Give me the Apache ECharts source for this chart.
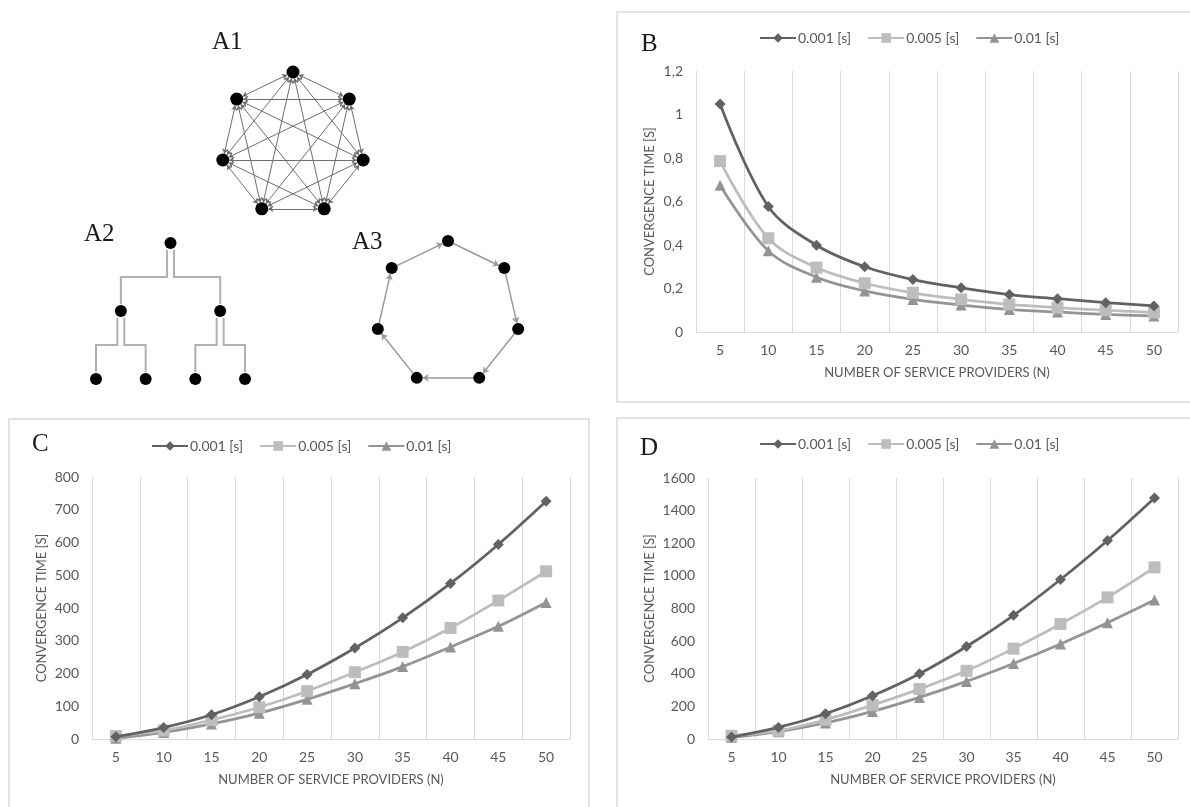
<!DOCTYPE html>
<html>
<head>
<meta charset="utf-8">
<script src="https://cdn.jsdelivr.net/npm/echarts@6/dist/echarts.min.js"></script>
<style>
html,body{margin:0;padding:0;background:#fff;}
#main{width:1190px;height:807px;}
</style>
</head>
<body>
<div id="main"></div>
<script>
// ---------- data ----------
const categories = ['5','10','15','20','25','30','35','40','45','50'];
const seriesNames = ['0.001 [s]','0.005 [s]','0.01 [s]'];

const bData001 = [1.048,0.577,0.399,0.300,0.241,0.203,0.172,0.153,0.135,0.120];
const bData005 = [0.786,0.431,0.296,0.224,0.180,0.150,0.127,0.112,0.100,0.090];
const bData01  = [0.675,0.373,0.252,0.189,0.150,0.124,0.104,0.092,0.081,0.074];

const cData001 = [7,35,74,129,197,278,370,475,594,726];
const cData005 = [9,26,58,97,146,204,266,339,423,512];
const cData01  = [2,20,46,79,121,169,221,281,344,417];

const dData001 = [12,71,155,265,400,567,758,978,1217,1478];
const dData005 = [20,51,118,208,306,418,554,705,868,1052];
const dData01  = [10,45,98,169,255,353,463,583,713,852];

const yAxisB = {min:0, max:1.2, interval:0.2};
const yAxisC = {min:0, max:800, interval:100};
const yAxisD = {min:0, max:1600, interval:200};

const xAxisTitle = 'NUMBER OF SERVICE PROVIDERS (N)';
const yAxisTitle = 'CONVERGENCE TIME [S]';
const panelLabels = ['A1','A2','A3','B','C','D'];

// network topologies
const a1NodeCount = 7;                  // fully connected mesh
const a2Tree = {children:[{children:[{},{}]},{children:[{},{}]}]}; // binary tree
const a3NodeCount = 7;                  // directed ring

// ---------- styling ----------
const colors = ['#626262','#bdbdbd','#949494'];
const symbols = ['diamond','rect','triangle'];
const symbolSizes = [11,12,11];
const textColor = '#595959';
const gridColor = '#d9d9d9';
const FONT = 'Lato';

// ---------- layouts for networks (derived from topology) ----------
function ringLayout(n){
  const pts=[];
  for(let i=0;i<n;i++){const a=-Math.PI/2+i*2*Math.PI/n;pts.push([Math.cos(a),Math.sin(a)]);}
  return pts;
}
const a1Pos = ringLayout(a1NodeCount);
const a1Links=[];
for(let i=0;i<a1NodeCount;i++)for(let j=i+1;j<a1NodeCount;j++)a1Links.push({source:i,target:j});
const a3Pos = ringLayout(a3NodeCount);
const a3Links=[];
for(let i=0;i<a3NodeCount;i++)a3Links.push({source:i,target:(i+1)%a3NodeCount});

// tree layout: leaves spaced by 1, parents centered, depth per level
const a2Nodes=[]; const a2Edges=[];
(function(){
  let leaf=0;
  function place(node,depth){
    if(!node.children||!node.children.length){node.x=leaf++;}
    else{node.children.forEach(c=>place(c,depth+1));
      node.x=node.children.reduce((s,c)=>s+c.x,0)/node.children.length;}
    node.y=depth; a2Nodes.push([node.x,node.y]);
  }
  place(a2Tree,0);
  const offX=0.07, rY=0.1;
  function edges(node){
    if(!node.children)return;
    node.children.forEach((c,k)=>{
      const sx=node.x+(k===0?-offX:offX);
      const mid=(node.y+c.y)/2;
      a2Edges.push({coords:[[sx,node.y+rY],[sx,mid],[c.x,mid],[c.x,c.y-rY]]});
      edges(c);
    });
  }
  edges(a2Tree);
})();

// ---------- chart helpers ----------
function chartAxes(idx, gridBox, yCfg, nameGap, fmt){
  return {
    grid: Object.assign({containLabel:false, outerBoundsMode:'none'}, gridBox),
    x: {type:'category', gridIndex:idx, data:categories, boundaryGap:true,
        axisLine:{show:true,lineStyle:{color:gridColor,width:1}}, axisTick:{show:false},
        splitLine:{show:true,lineStyle:{color:gridColor,width:1}},
        axisLabel:{color:textColor,fontFamily:FONT,fontSize:14,margin:11,interval:0},
        name:xAxisTitle, nameLocation:'middle', nameGap:34,
        nameTextStyle:{color:textColor,fontFamily:FONT,fontSize:13}},
    y: {type:'value', gridIndex:idx, min:yCfg.min, max:yCfg.max, interval:yCfg.interval,
        axisLine:{show:false}, axisTick:{show:false}, splitLine:{show:false},
        axisLabel:{color:textColor,fontFamily:FONT,fontSize:14,margin:13,formatter:fmt},
        name:yAxisTitle, nameLocation:'middle', nameGap:nameGap,
        nameTextStyle:{color:textColor,fontFamily:FONT,fontSize:13}}
  };
}
const bAx = chartAxes(0,{left:696,top:71,width:482,height:261},yAxisB,40,v=>String(v).replace('.',','));
const cAx = chartAxes(1,{left:92,top:477,width:478,height:262},yAxisC,44,v=>String(v));
const dAx = chartAxes(2,{left:708,top:478,width:470,height:261},yAxisD,52,v=>String(v));

function lineSeries(idx, arrays){
  return arrays.map((arr,k)=>({
    type:'line', name:seriesNames[k], xAxisIndex:idx, yAxisIndex:idx, data:arr,
    smooth:0.35, symbol:symbols[k], symbolSize:symbolSizes[k], showSymbol:true,
    lineStyle:{color:colors[k],width:2.75}, itemStyle:{color:colors[k],opacity:1},
    emphasis:{disabled:true}, z:3+(2-k)
  }));
}
function legend(left, top){
  return {left:left, top:top, padding:0, itemGap:16, itemWidth:36, itemHeight:12,
    data:seriesNames, selectedMode:false,
    textStyle:{color:textColor,fontFamily:FONT,fontSize:14,padding:[0,0,0,-3]}};
}

const hiddenAxis = (idx,min,max,inv)=>({type:'value',gridIndex:idx,min:min,max:max,inverse:!!inv,show:false});

const option = {
  animation:false,
  backgroundColor:'#fff',
  graphic:[
    {type:'rect',shape:{x:617,y:12,width:600,height:390},style:{fill:'none',stroke:gridColor,lineWidth:1.5},z:-1},
    {type:'rect',shape:{x:9,y:419,width:580,height:420},style:{fill:'none',stroke:gridColor,lineWidth:1.5},z:-1},
    {type:'rect',shape:{x:617,y:418,width:600,height:420},style:{fill:'none',stroke:gridColor,lineWidth:1.5},z:-1}
  ],
  title:[
    {text:panelLabels[0],left:212,top:30},
    {text:panelLabels[1],left:84,top:222},
    {text:panelLabels[2],left:352,top:230},
    {text:panelLabels[3],left:641,top:32},
    {text:panelLabels[4],left:32,top:432},
    {text:panelLabels[5],left:640,top:436}
  ].map(t=>Object.assign(t,{padding:0,textStyle:{fontFamily:'Liberation Serif',fontSize:25,fontWeight:'normal',color:'#1a1a1a'}})),
  legend:[legend(759,31),legend(151,439),legend(759,437)],
  grid:[bAx.grid,cAx.grid,dAx.grid,
    {left:221,top:72,width:144,height:144,outerBoundsMode:'none'},
    {left:96,top:243,width:149,height:136,outerBoundsMode:'none'},
    {left:376,top:241,width:144,height:144,outerBoundsMode:'none'}],
  xAxis:[bAx.x,cAx.x,dAx.x,hiddenAxis(3,-1,1),hiddenAxis(4,0,3),hiddenAxis(5,-1,1)],
  yAxis:[bAx.y,cAx.y,dAx.y,hiddenAxis(3,-1,1,true),hiddenAxis(4,0,2,true),hiddenAxis(5,-1,1,true)],
  series:[
    ...lineSeries(0,[bData001,bData005,bData01]),
    ...lineSeries(1,[cData001,cData005,cData01]),
    ...lineSeries(2,[dData001,dData005,dData01]),
    {type:'graph',coordinateSystem:'cartesian2d',xAxisIndex:3,yAxisIndex:3,
      data:a1Pos.map(p=>({value:p})),links:a1Links,symbol:'circle',symbolSize:13,
      itemStyle:{color:'#000',opacity:1},edgeSymbol:['arrow','arrow'],edgeSymbolSize:5,
      lineStyle:{color:'#6e6e6e',width:1,opacity:1,curveness:0},label:{show:false},
      emphasis:{disabled:true},silent:true},
    {type:'lines',coordinateSystem:'cartesian2d',xAxisIndex:4,yAxisIndex:4,polyline:true,
      data:a2Edges,symbol:['arrow','arrow'],symbolSize:5,
      lineStyle:{color:'#b0b0b0',width:2,opacity:1},silent:true,z:2},
    {type:'scatter',xAxisIndex:4,yAxisIndex:4,data:a2Nodes,symbol:'circle',symbolSize:12,
      itemStyle:{color:'#000',opacity:1},emphasis:{disabled:true},silent:true,z:3},
    {type:'graph',coordinateSystem:'cartesian2d',xAxisIndex:5,yAxisIndex:5,
      data:a3Pos.map(p=>({value:p})),links:a3Links,symbol:'circle',symbolSize:12,
      itemStyle:{color:'#000',opacity:1},edgeSymbol:['none','arrow'],edgeSymbolSize:6,
      lineStyle:{color:'#9a9a9a',width:1.5,opacity:1,curveness:0},label:{show:false},
      emphasis:{disabled:true},silent:true}
  ]
};
const chart = echarts.init(document.getElementById('main'),null,{renderer:'canvas'});
chart.setOption(option);
</script>
</body>
</html>
